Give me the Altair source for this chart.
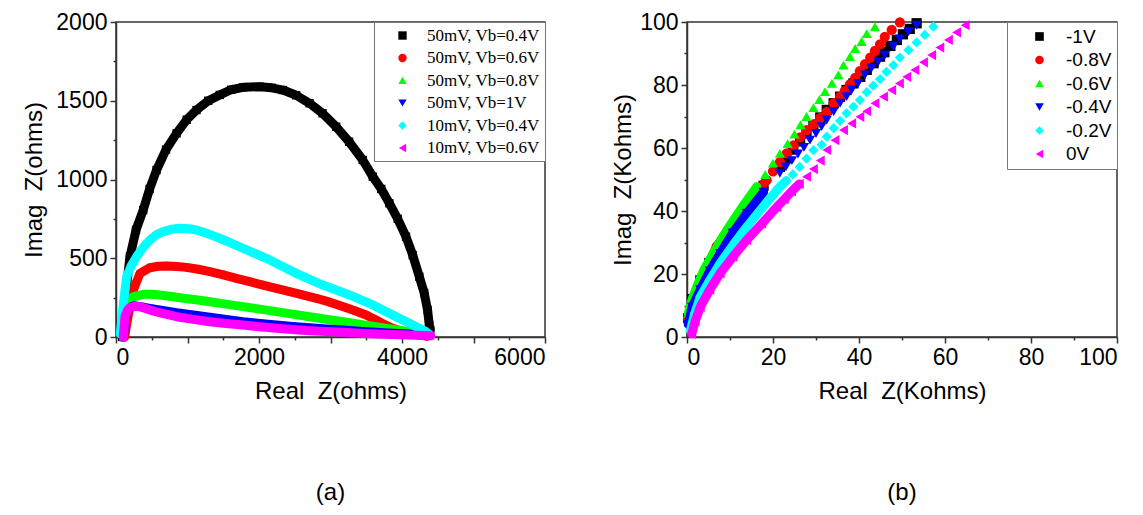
import altair as alt
import pandas as pd

# ---------------- panel (a): impedance arcs, ohms ----------------
a_labels = ["50mV, Vb=0.4V", "50mV, Vb=0.6V", "50mV, Vb=0.8V",
            "50mV, Vb=1V", "10mV, Vb=0.4V", "10mV, Vb=0.6V"]

a_black_x = [85, 110, 150, 195, 280, 381, 470, 567, 700, 847, 990, 1126, 1290, 1451, 1610,
             1777, 2009, 2180, 2335, 2520, 2707, 2890, 3079, 3260, 3451, 3591, 3710, 3823,
             3940, 4056, 4150, 4242, 4310, 4358, 4381, 4395]
a_black_y = [0, 150, 330, 510, 680, 806, 940, 1060, 1190, 1293, 1380, 1441, 1500, 1537, 1570,
             1585, 1589, 1582, 1568, 1535, 1484, 1420, 1335, 1240, 1124, 1018, 940, 849,
             750, 637, 520, 383, 280, 171, 76, 45]

a_red_x = [120, 180, 242, 335, 474, 590, 707, 850, 986, 1150, 1312, 1500, 1684, 1870, 2056,
           2240, 2428, 2610, 2800, 2990, 3172, 3340, 3498, 3637, 3750, 3870, 4000, 4102, 4250, 4350]
a_red_y = [0, 160, 298, 404, 440, 449, 451, 448, 442, 430, 415, 395, 372, 351, 330,
           309, 288, 267, 246, 221, 193, 167, 140, 108, 80, 55, 36, 23, 12, 5]

a_green_x = [100, 149, 242, 381, 500, 614, 780, 940, 1120, 1312, 1540, 1777, 2010, 2242,
             2470, 2707, 2940, 3172, 3400, 3637, 3820, 4009, 4200, 4350]
a_green_y = [0, 214, 256, 271, 272, 267, 257, 246, 236, 224, 209, 193, 177, 161,
             145, 129, 113, 97, 81, 65, 52, 40, 22, 10]

a_blue_x = [100, 150, 242, 350, 474, 650, 847, 1080, 1312, 1540, 1777, 2010, 2242, 2470,
            2707, 2940, 3172, 3400, 3637, 3870, 4102, 4350]
a_blue_y = [0, 170, 197, 192, 182, 168, 154, 140, 125, 111, 97, 86, 76, 67,
            59, 51, 44, 37, 30, 24, 19, 10]

a_cyan_x = [60, 100, 149, 210, 288, 380, 474, 560, 660, 780, 893, 1010, 1126, 1290, 1451,
            1610, 1777, 1960, 2149, 2330, 2521, 2700, 2893, 3080, 3265, 3544, 3823, 4102, 4335, 4400]
a_cyan_y = [20, 200, 383, 450, 510, 570, 616, 648, 669, 685, 690, 688, 679, 655, 627,
            596, 563, 527, 489, 447, 404, 368, 330, 298, 267, 214, 150, 87, 34, 10]

a_magenta_x = [102, 115, 126, 160, 195, 288, 380, 474, 650, 847, 1080, 1312, 1540, 1777,
               2010, 2242, 2470, 2707, 2940, 3172, 3400, 3637, 3870, 4102, 4400]
a_magenta_y = [0, 70, 129, 170, 188, 197, 186, 171, 150, 129, 112, 97, 86, 76,
               65, 55, 47, 40, 35, 30, 24, 19, 16, 13, 8]

# ---------------- panel (b): low-frequency branches, kohms ----------------
b_labels = ["-1V", "-0.8V", "-0.6V", "-0.4V", "-0.2V", "0V"]

b_black_x = [0.3, 1.2, 3.1, 5.2, 7.7, 10.6, 13.9, 17.8, 21.6, 23.1, 24.7, 26.3, 27.8, 29.4,
             31.0, 32.5, 34.1, 35.6, 37.1, 38.7, 40.3, 41.8, 43.4, 44.9, 45.9, 47.3, 48.8,
             50.2, 51.8, 53.4]
b_black_y = [6, 12, 18, 23.5, 28.7, 35, 41.3, 48, 54, 56.8, 59.5, 62.1, 64.6, 67.2,
             69.7, 72.1, 74.2, 76.3, 78.4, 80.5, 82.6, 84.8, 86.9, 89, 90.4, 92.4, 94.3,
             96.1, 97.8, 99.6]

b_red_x = [0.3, 1.2, 2.3, 4.5, 6.9, 9.5, 12.3, 15.5, 18.5, 20.0, 21.6, 23.2, 24.8, 26.3,
           27.8, 29.5, 31.0, 32.5, 34.1, 35.6, 36.7, 37.9, 39.1, 40.2, 41.4, 42.6, 43.7,
           44.9, 46.0, 47.6, 49.5]
b_red_y = [6, 10.5, 15, 22, 28.7, 34, 39.3, 44.8, 49.8, 52.6, 55.5, 58.3, 60.8, 63.4,
           65.7, 67.6, 69.6, 71.5, 74.2, 76.3, 78.1, 80.2, 82.3, 84.4, 86.6, 88.7, 90.8,
           92.9, 95.3, 97.5, 99.9]

b_green_x = [0.3, 1.2, 2.3, 4.0, 6.1, 8.4, 10.8, 13.5, 16.2, 18.2, 20.0, 21.6, 23.4, 25.0,
             26.4, 27.8, 29.4, 30.8, 32.1, 33.7, 35.2, 36.4, 37.9, 39.1, 40.6, 41.8, 43.7]
b_green_y = [7.5, 12, 16, 21.5, 26.5, 32, 37.1, 42.5, 47.7, 51.6, 55.2, 58.3, 61.4, 64.4,
             67.4, 70, 72.8, 75.4, 77.9, 80.5, 83.2, 86.3, 89, 91.6, 93.8, 96.3, 98.5]

b_blue_x = [0.3, 1.2, 3.1, 5.3, 7.7, 10.6, 13.9, 17.8, 21.6, 23.0, 24.4, 25.8, 27.2, 28.6,
            30.0, 31.3, 32.5, 34.1, 35.6, 37.1, 38.3, 39.8, 41.4, 42.9, 44.5, 46.0, 48.0,
            49.5, 51.5, 53.4]
b_blue_y = [4, 9.5, 15, 21, 26.5, 33, 39.3, 46, 52, 54, 56, 58.1, 60.2, 62.5,
            64.6, 66.8, 68.9, 71.5, 74.2, 76.3, 78.4, 80.5, 83.2, 85.3, 87.4, 89.5, 92.2,
            94.6, 96.9, 99]

b_cyan_x = [0.8, 1.8, 3.1, 5.3, 7.7, 10.7, 13.9, 17.8, 21.6, 23.1, 24.6, 26.2, 27.8, 29.4,
            31.3, 32.5, 34.1, 35.6, 37.1, 38.7, 40.2, 41.8, 43.3, 44.9, 46.4, 48.0, 49.5,
            51.5, 53.4, 55.3, 57.3]
b_cyan_y = [2, 7.5, 12.8, 18, 23.4, 29.2, 35, 41.5, 47.7, 49.6, 51.6, 54, 56.6, 59.3,
            61, 63.6, 66.3, 68.6, 71, 73.1, 75.2, 77.7, 79.8, 81.9, 84.2, 86.3, 88.7,
            91.1, 93.5, 95.9, 98.5]

b_magenta_x = [1.1, 1.9, 3.1, 5.3, 7.7, 10.7, 13.9, 17.4, 20.9, 22.6, 24.3, 26.1, 27.8,
               29.4, 31.0, 32.5, 34.4, 36.4, 38.3, 40.2, 41.8, 43.7, 45.7, 47.6, 49.4,
               51.1, 53.0, 55.0, 56.9, 58.8, 60.8, 62.7, 64.7]
b_magenta_y = [1, 5, 9.6, 15, 20.2, 25.5, 30.8, 36, 41.3, 43.7, 46.2, 48.6, 50.9,
               53.3, 56.0, 59.4, 62.5, 65.7, 67.8, 69.9, 71.7, 74.2, 76.3, 78.4, 80.5,
               82.6, 84.8, 87.2, 89.5, 91.9, 94.3, 96.7, 99.0]

colors = ["#000000", "#ff0000", "#00ff00", "#0000ff", "#00ffff", "#ff00ff"]
shapes = ["square", "circle", "triangle-up", "triangle-down", "diamond", "triangle-left"]

AXIS_FONT = "Liberation Sans"
NBSP = "\u00a0"


def frame(labels, xs, ys):
    rows = []
    for lab, xv, yv in zip(labels, xs, ys):
        for i, (x, y) in enumerate(zip(xv, yv)):
            rows.append({"series": lab, "x": x, "y": y, "i": i})
    return pd.DataFrame(rows)


def minor_axis(title, step, major, vmax, title_pad):
    vals = [round(v * step, 6) for v in range(int(vmax / step) + 1)]
    return alt.Axis(
        title=title, values=vals, grid=False, format="d",
        labelExpr=f"datum.value % {major} === 0 ? datum.label : ''",
        tickSize={"condition": {"test": f"datum.value % {major} !== 0", "value": 3}, "value": 6},
        labelPadding=3, titlePadding=title_pad,
    )


def panel(df, labels, xdom, ydom, xaxis, yaxis, legend, line_top, pt_size, band):
    cscale = alt.Scale(domain=labels, range=colors)
    sscale = alt.Scale(domain=labels, range=shapes)
    xenc = alt.X("x:Q", scale=alt.Scale(domain=xdom, nice=False), axis=xaxis)
    yenc = alt.Y("y:Q", scale=alt.Scale(domain=ydom, nice=False), axis=yaxis)
    layers = []
    for lab, col in zip(labels, colors):
        sub = df[df.series == lab]
        band_part = sub[sub.y <= line_top]
        layers.append(
            alt.Chart(band_part).mark_line(color=col, strokeWidth=band,
                                           strokeCap="round", strokeJoin="round")
            .encode(x=xenc, y=yenc, order="i:Q")
        )
        layers.append(
            alt.Chart(sub).mark_point(filled=True, size=pt_size, opacity=1)
            .encode(
                x=xenc, y=yenc,
                color=alt.Color("series:N", scale=cscale, legend=legend),
                shape=alt.Shape("series:N", scale=sscale, legend=legend),
            )
        )
    return alt.layer(*layers)


df_a = frame(a_labels,
             [a_black_x, a_red_x, a_green_x, a_blue_x, a_cyan_x, a_magenta_x],
             [a_black_y, a_red_y, a_green_y, a_blue_y, a_cyan_y, a_magenta_y])
df_b = frame(b_labels,
             [b_black_x, b_red_x, b_green_x, b_blue_x, b_cyan_x, b_magenta_x],
             [b_black_y, b_red_y, b_green_y, b_blue_y, b_cyan_y, b_magenta_y])

legend_a = alt.Legend(title=None, orient="top-right", offset=0, strokeColor="#777",
                      fillColor="white", padding=5, labelFont="Liberation Serif",
                      labelFontSize=17, symbolSize=70, rowPadding=4.5,
                      symbolOffset=15, labelOffset=16, labelLimit=400)
legend_b = alt.Legend(title=None, orient="top-right", offset=0, strokeColor="#777",
                      fillColor="white", padding=5, labelFont=AXIS_FONT,
                      labelFontSize=19, symbolSize=75, rowPadding=3.5,
                      symbolOffset=18, labelOffset=17, labelLimit=400)

chart_a = panel(
    df_a, a_labels, [0, 6000], [0, 2000],
    minor_axis(f"Real{NBSP} Z(ohms)", 500, 1000, 6000, 10),
    minor_axis(f"Imag{NBSP} Z(ohms)", 250, 500, 2000, 9),
    legend_a, 5000, 70, 9,
).properties(
    width=429, height=315,
    title=alt.TitleParams("(a)", orient="bottom", offset=78, fontSize=24,
                          font=AXIS_FONT, fontWeight="normal"),
)

chart_b = panel(
    df_b, b_labels, [0, 100], [0, 100],
    minor_axis(f"Real{NBSP} Z(Kohms)", 10, 20, 100, 10),
    minor_axis(f"Imag{NBSP} Z(Kohms)", 10, 20, 100, 4),
    legend_b, 50, 105, 9,
).properties(
    width=430, height=315,
    title=alt.TitleParams("(b)", orient="bottom", offset=78, fontSize=24,
                          font=AXIS_FONT, fontWeight="normal"),
)

chart = (
    alt.hconcat(chart_a, chart_b, spacing=63)
    .resolve_scale(color="independent", shape="independent", x="independent", y="independent")
    .properties(padding={"left": 22, "top": 10, "right": 5, "bottom": 5})
    .configure_view(stroke="#333333", strokeWidth=1.5)
    .configure_axis(labelFont=AXIS_FONT, titleFont=AXIS_FONT, labelFontSize=23,
                    titleFontSize=24, titleFontWeight="normal", labelColor="#000",
                    titleColor="#000", domainColor="#333", tickColor="#333",
                    domainWidth=1.5, tickWidth=1.5)
    .configure_title(anchor="middle")
)

chart.save("out.html", embed_options={"renderer": "svg", "actions": False})
